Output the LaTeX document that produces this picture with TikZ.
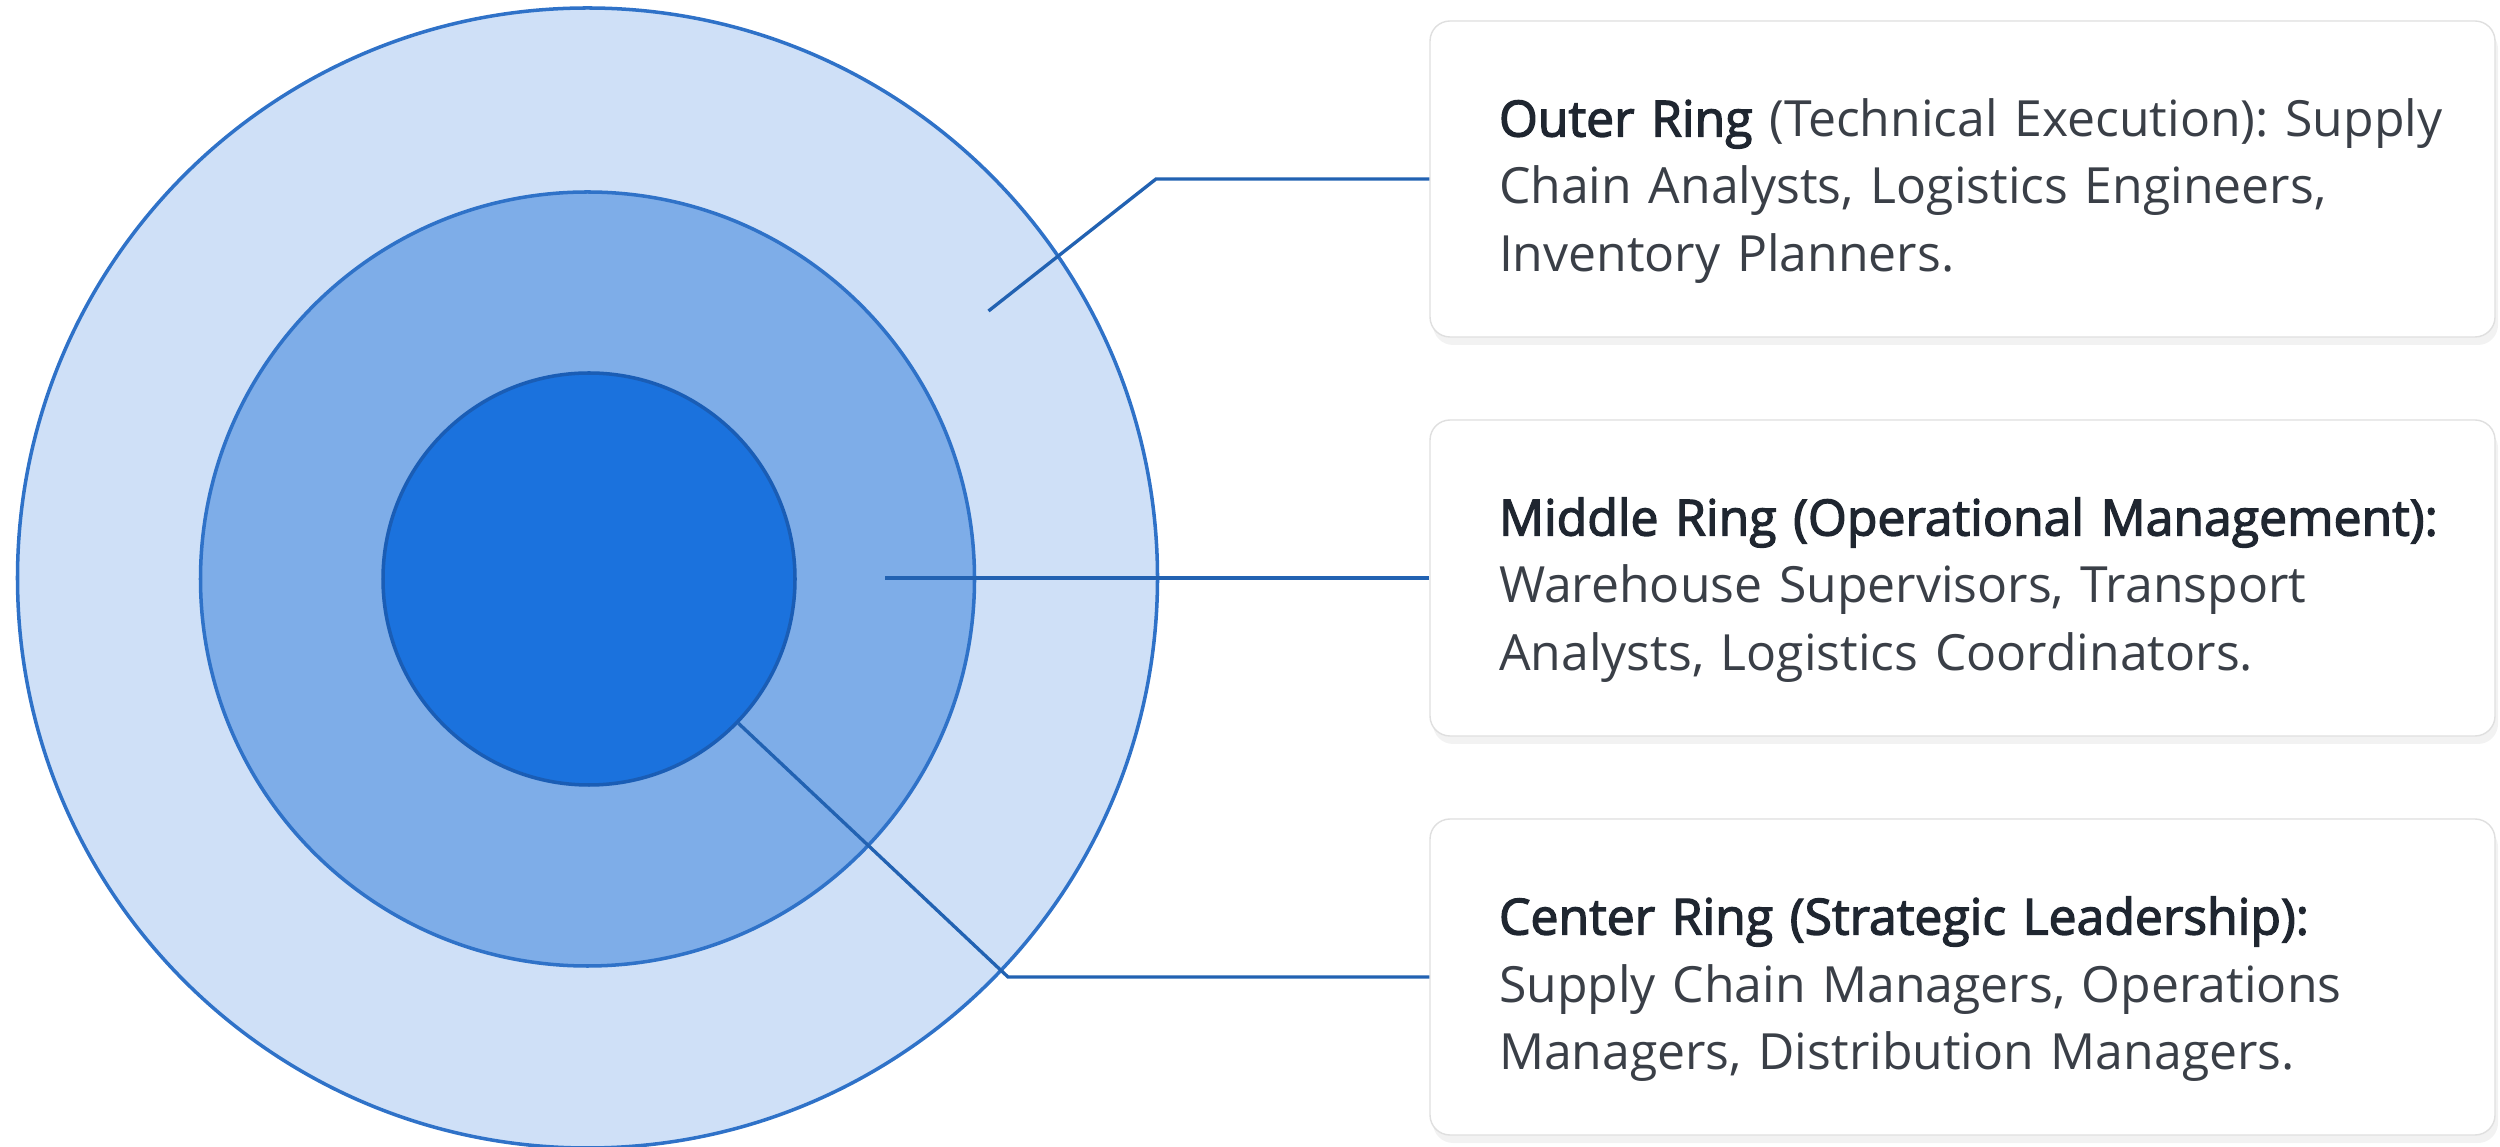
\documentclass[tikz,border=0pt]{standalone}
\usepackage{fontspec}
\setmainfont{Open Sans}
\newfontfamily\titlefont{Open Sans}[FakeBold=2.6]
\usetikzlibrary{positioning, shadows, calc}
\frenchspacing

\definecolor{ringlight}{HTML}{CFE0F7}
\definecolor{ringmid}{HTML}{7EADE8}
\definecolor{ringcore}{HTML}{1B72DD}
\definecolor{ringedge}{HTML}{2F72C8}
\definecolor{coreedge}{HTML}{1A5DB5}
\definecolor{leaderblue}{HTML}{2262B2}
\definecolor{titlegray}{HTML}{1F2630}
\definecolor{textgray}{HTML}{3A3F47}

\newcommand{\ringtitle}[1]{{\color{titlegray}\titlefont #1}}

\begin{document}
\begin{tikzpicture}[
  % rings, boxes and leader lines
  ring/.style={circle, draw=ringedge, line width=1pt, inner sep=0pt},
  outerring/.style={ring, fill=ringlight, minimum size=11.4cm},
  midring/.style={ring, fill=ringmid, minimum size=7.74cm},
  corering/.style={ring, fill=ringcore, draw=coreedge, minimum size=4.12cm},
  infobox/.style={draw=gray!25, fill=white, rounded corners=2mm,
    minimum width=10.65cm, minimum height=3.16cm, text width=9.27cm,
    inner xsep=0.69cm, align=left, text=textgray,
    font=\fontsize{14.2}{19.2}\selectfont,
    execute at begin node={\rule{0pt}{6.2mm}},
    drop shadow={opacity=0.1, shadow xshift=0.3mm, shadow yshift=-0.8mm}},
  leader/.style={draw=leaderblue, line width=0.95pt}
]
\useasboundingbox (0,0) rectangle (25,-11.47);

% Concentric rings
\node[outerring] (outer) at (5.875,-5.78) {};
\node[midring] (middle) at (5.875,-5.79) {};
\node[corering] (core) at (5.89,-5.79) {};

% Description boxes
\node[infobox] (outerbox) at (19.625,-1.79) {\mbox{\ringtitle{Outer Ring} (Technical Execution): Supply}\\Chain Analysts, Logistics Engineers,\\Inventory Planners.};
\node[infobox] (midbox) at (19.625,-5.78) {\mbox{\ringtitle{Middle Ring (Operational Management):}}\\Warehouse Supervisors, Transport\\Analysts, Logistics Coordinators.};
\node[infobox] (corebox) at (19.625,-9.77) {\mbox{\ringtitle{Center Ring (Strategic Leadership):}}\\Supply Chain Managers, Operations\\Managers, Distribution Managers.};

% Leader lines
\coordinate (outer_tip) at (9.885,-3.11);
\coordinate (outer_bend) at (11.56,-1.79);
\coordinate (mid_tip) at (8.85,-5.78);
\coordinate (core_bend) at (10.08,-9.77);

\draw[leader] (outer_tip) -- (outer_bend) -- (outerbox.west);
\draw[leader] (mid_tip) -- (midbox.west);
\draw[leader] (core.-44) -- (core_bend) -- (corebox.west);

\end{tikzpicture}
\end{document}
